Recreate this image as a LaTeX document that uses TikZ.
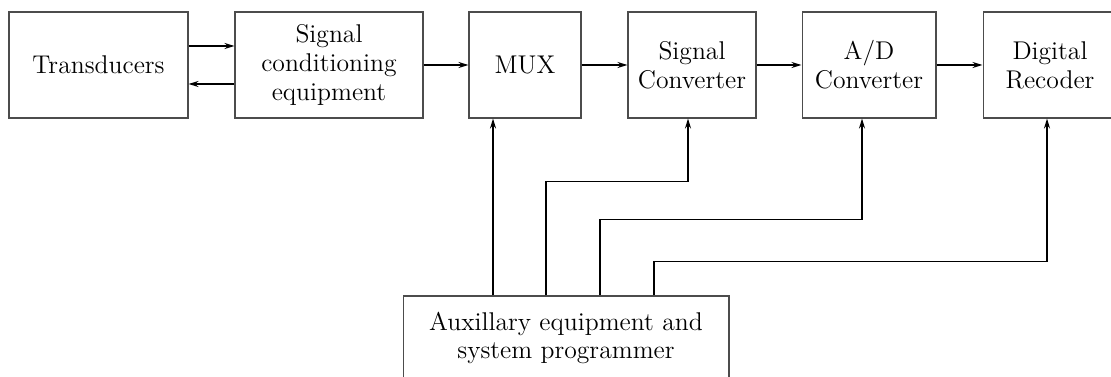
\documentclass[tikz,border=0pt]{standalone}
\usepackage{tikz}
\usetikzlibrary{positioning, arrows.meta, calc}

\begin{document}
\begin{tikzpicture}[
  x=0.02cm, y=0.02cm,
  font=\fontsize{14.6}{16.4}\selectfont,
  block/.style={draw=black!70, line width=0.6pt, align=center,
                minimum height=2.12cm, inner sep=2pt},
  sig/.style={-{Stealth[length=2mm, width=1.2mm]}, line width=0.9pt},
]
\useasboundingbox (0,0) rectangle (1111,-377);
\clip (0,0) rectangle (1111,-377);

% Signal chain
\node[block, minimum width=3.58cm] (trans) at (98.5,-65) {Transducers};
\node[block, minimum width=3.76cm] (cond)  at (329,-65)  {Signal\\conditioning\\equipment};
\node[block, minimum width=2.24cm] (mux)   at (525,-65)  {MUX};
\node[block, minimum width=2.56cm] (sconv) at (692,-65)  {Signal\\Converter};
\node[block, minimum width=2.68cm] (adc)   at (869,-65)  {A/D\\Converter};
\node[block, minimum width=2.68cm] (rec)   at (1050,-65) {Digital\\Recoder};

% Control unit
\node[block, minimum width=6.52cm, minimum height=1.68cm] (aux) at (566,-338)
  {Auxillary equipment and\\system programmer};

% Forward path
\draw[sig] ([yshift=0.38cm]trans.east) -- ([yshift=0.38cm]cond.west);
\draw[sig] ([yshift=-0.38cm]cond.west) -- ([yshift=-0.38cm]trans.east);
\draw[sig] (cond.east) -- (mux.west);
\draw[sig] (mux.east) -- (sconv.west);
\draw[sig] (sconv.east) -- (adc.west);
\draw[sig] (adc.east) -- (rec.west);

% Taps on the control unit
\coordinate (a1) at ([xshift=-1.46cm]aux.north);
\coordinate (a2) at ([xshift=-0.40cm]aux.north);
\coordinate (a3) at ([xshift=0.68cm]aux.north);
\coordinate (a4) at ([xshift=1.76cm]aux.north);
\coordinate (s2) at ([xshift=-0.08cm]sconv.south);
\coordinate (d2) at ([xshift=-0.14cm]adc.south);
\coordinate (r2) at ([xshift=-0.06cm]rec.south);

% Control lines
\draw[sig] (a1) -- (a1 |- mux.south);
\draw[sig] (a2) -- ++(0,114) -| (s2);
\draw[sig] (a3) -- ++(0,76) -| (d2);
\draw[sig] (a4) -- ++(0,34) -| (r2);
\end{tikzpicture}
\end{document}
